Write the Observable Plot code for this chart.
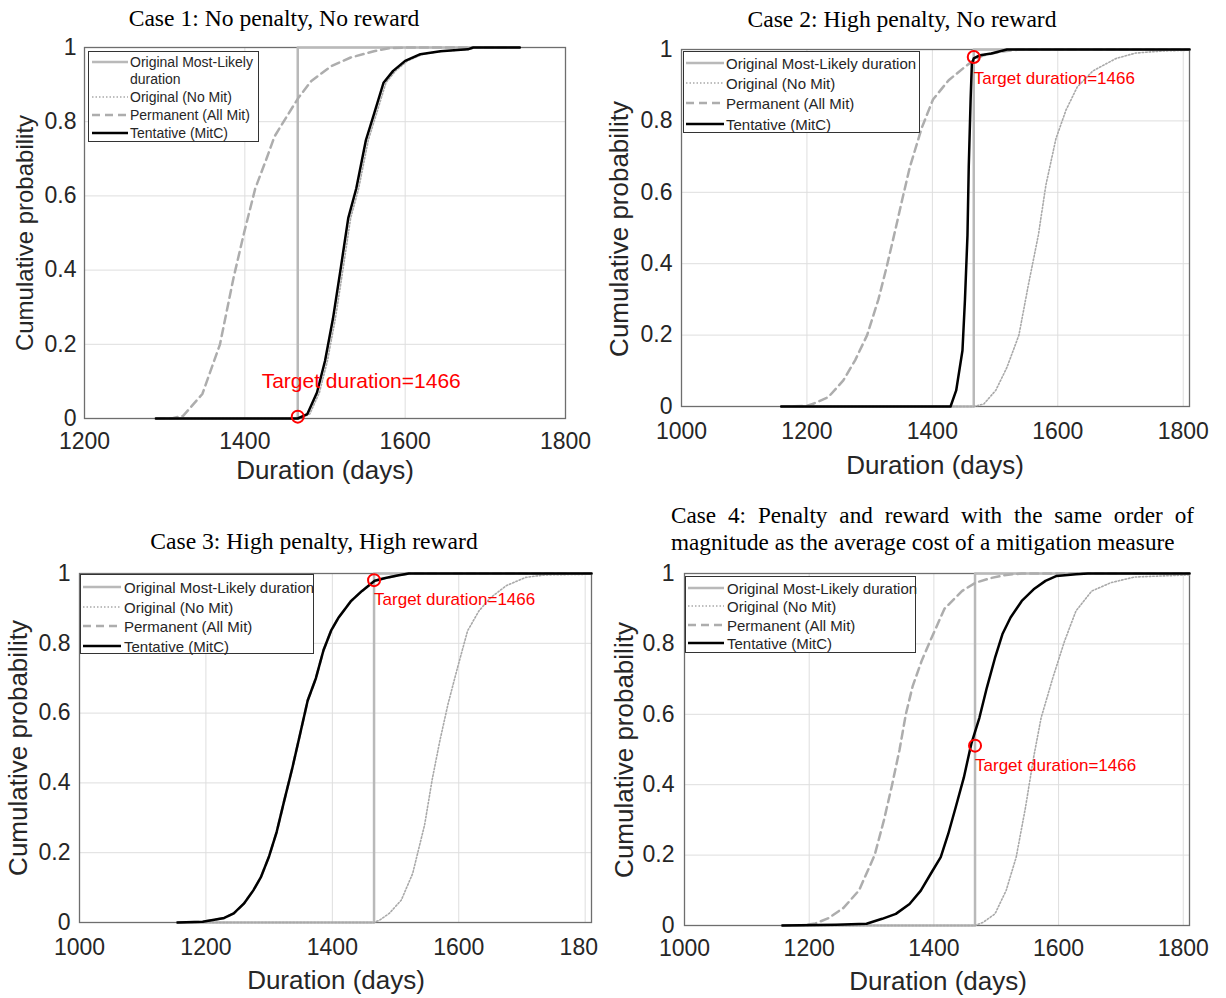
<!DOCTYPE html>
<html><head><meta charset="utf-8">
<script src="https://cdn.jsdelivr.net/npm/d3@7"></script>
<script src="https://cdn.jsdelivr.net/npm/@observablehq/plot@0.6"></script>
<style>
body{margin:0;background:#fff;}
#root{position:relative;width:1226px;height:998px;overflow:hidden;background:#fff;font-family:"Liberation Sans",Arial,sans-serif;}
.panel{position:absolute;overflow:hidden;}
.title{position:absolute;font-family:"Liberation Serif","Times New Roman",serif;font-size:23.6px;color:#000;white-space:nowrap;line-height:1;transform:translate(-50%,-50%);}
.title4{position:absolute;font-family:"Liberation Serif","Times New Roman",serif;font-size:23.2px;color:#000;white-space:nowrap;line-height:1;transform:translateY(-50%);}
.xt{position:absolute;font-size:26px;color:#262626;transform:translate(-50%,-50%);white-space:nowrap;line-height:1;}
.yt{position:absolute;font-size:26px;color:#262626;transform:translate(-50%,-50%) rotate(-90deg);white-space:nowrap;line-height:1;}
.legend{position:absolute;border:1px solid #333;background:#fff;box-sizing:border-box;}
.lrow{position:absolute;font-size:15px;color:#262626;white-space:nowrap;line-height:1;transform:translateY(-50%);}
.lsvg{position:absolute;}
</style></head>
<body><div id="root"></div>
<script>
// ---------- data ----------
const targetDuration = 1466;
const xTicksCase1 = [1200, 1400, 1600, 1800];
const xTicksWide = [1000, 1200, 1400, 1600, 1800];
const yTicks = [0, 0.2, 0.4, 0.6, 0.8, 1];
const seriesNames = ["Original Most-Likely duration", "Original (No Mit)", "Permanent (All Mit)", "Tentative (MitC)"];
const caseTitles = [
  "Case 1: No penalty, No reward",
  "Case 2: High penalty, No reward",
  "Case 3: High penalty, High reward",
  "Case 4: Penalty and reward with the same order of",
  "magnitude as the average cost of a mitigation measure"
];
const xLabel = "Duration (days)";
const yLabel = "Cumulative probability";

// Case 1
const c1MostLikely = [[1289,0],[1466,0],[1466,1],[1743,1]];
const c1NoMit = [[1289,0],[1468,0],[1481,0.012],[1493,0.07],[1503,0.155],[1513,0.27],[1523,0.41],[1532,0.54],[1542,0.62],[1554,0.75],[1564,0.82],[1576,0.905],[1588,0.937],[1603,0.964],[1622,0.982],[1646,0.99],[1680,0.995],[1688,1],[1743,1]];
const c1Permanent = [[1290,0],[1310,0.001],[1323,0.007],[1347,0.066],[1369,0.2],[1386,0.38],[1399,0.5],[1413,0.62],[1427,0.7],[1437,0.76],[1454,0.82],[1467,0.865],[1483,0.91],[1508,0.95],[1532,0.973],[1561,0.99],[1580,0.998],[1600,1],[1743,1]];
const c1Tentative = [[1289,0],[1466,0],[1478,0.012],[1490,0.07],[1500,0.155],[1510,0.27],[1520,0.41],[1529,0.54],[1539,0.62],[1551,0.75],[1561,0.82],[1573,0.905],[1585,0.937],[1600,0.964],[1619,0.982],[1644,0.99],[1678,0.995],[1685,1],[1743,1]];
const c1Target = [[1466, 0.005]];
const c1LabelAt = [[1421, 0.1]];

// Case 2
const c2MostLikely = [[1159,0],[1466,0],[1466,1],[1810,1]];
const c2NoMit = [[1159,0],[1466,0],[1482,0.007],[1501,0.045],[1519,0.11],[1538,0.2],[1553,0.34],[1569,0.48],[1581,0.62],[1597,0.75],[1613,0.83],[1631,0.895],[1656,0.94],[1693,0.975],[1724,0.99],[1768,0.996],[1810,0.998]];
const c2Permanent = [[1159,0],[1200,0.002],[1209,0.007],[1234,0.026],[1258,0.073],[1277,0.13],[1296,0.2],[1314,0.3],[1327,0.39],[1339,0.48],[1352,0.58],[1364,0.67],[1383,0.78],[1401,0.86],[1426,0.914],[1451,0.95],[1466,0.97],[1482,0.984],[1507,0.993],[1538,1],[1810,1]];
const c2Tentative = [[1159,0],[1429,0],[1438,0.045],[1448,0.157],[1452,0.3],[1456,0.48],[1458,0.67],[1461,0.86],[1463,0.96],[1466,0.975],[1476,0.984],[1494,0.989],[1519,1],[1810,1]];
const c2Target = [[1466, 0.979]];
const c2LabelAt = [[1466, 0.92]];

// Case 3
const c3MostLikely = [[1155,0],[1466,0],[1466,1],[1810,1]];
const c3NoMit = [[1155,0],[1466,0],[1475,0.007],[1490,0.026],[1509,0.064],[1527,0.14],[1546,0.28],[1558,0.41],[1570,0.52],[1583,0.626],[1598,0.73],[1614,0.836],[1632,0.893],[1650,0.93],[1675,0.965],[1706,0.989],[1737,0.996],[1810,0.998]];
const c3Permanent = [[1155,0],[1195,0.002],[1229,0.013],[1244,0.026],[1260,0.054],[1275,0.092],[1287,0.13],[1300,0.19],[1312,0.26],[1324,0.35],[1337,0.445],[1349,0.54],[1361,0.636],[1374,0.7],[1386,0.78],[1398,0.836],[1410,0.874],[1429,0.92],[1447,0.95],[1467,0.979],[1484,0.987],[1503,0.994],[1521,1],[1810,1]];
const c3Tentative = [[1155,0],[1195,0.002],[1229,0.013],[1244,0.026],[1260,0.054],[1275,0.092],[1287,0.13],[1300,0.19],[1312,0.26],[1324,0.35],[1337,0.445],[1349,0.54],[1361,0.636],[1374,0.7],[1386,0.78],[1398,0.836],[1410,0.874],[1429,0.92],[1447,0.95],[1467,0.979],[1484,0.987],[1503,0.994],[1521,1],[1810,1]];
const c3Target = [[1466, 0.981]];
const c3LabelAt = [[1466, 0.924]];

// Case 4
const c4MostLikely = [[1157,0],[1466,0],[1466,1],[1810,1]];
const c4NoMit = [[1157,0],[1466,0],[1479,0.009],[1498,0.033],[1516,0.1],[1532,0.194],[1547,0.336],[1560,0.478],[1572,0.59],[1591,0.705],[1610,0.81],[1628,0.894],[1653,0.95],[1684,0.974],[1722,0.99],[1810,0.996]];
const c4Permanent = [[1157,0],[1193,0.001],[1210,0.006],[1230,0.02],[1255,0.05],[1280,0.1],[1305,0.2],[1320,0.3],[1333,0.4],[1345,0.5],[1355,0.6],[1366,0.68],[1380,0.75],[1392,0.8],[1417,0.9],[1445,0.95],[1467,0.974],[1491,0.987],[1516,0.996],[1541,1],[1810,1]];
const c4Tentative = [[1157,0],[1243,0.002],[1292,0.005],[1317,0.019],[1339,0.033],[1361,0.061],[1379,0.099],[1395,0.147],[1411,0.194],[1423,0.26],[1435,0.336],[1448,0.42],[1460,0.516],[1473,0.59],[1485,0.676],[1498,0.76],[1510,0.828],[1523,0.875],[1541,0.922],[1560,0.955],[1579,0.979],[1597,0.993],[1628,0.998],[1647,1],[1810,1]];
const c4Target = [[1466, 0.511]];
const c4LabelAt = [[1466, 0.454]];

// ---------- styles / layout ----------
const styleML = {stroke:"#b9b9b9", strokeWidth:2.5};
const styleNo = {stroke:"#a9a9a9", strokeWidth:1.6, strokeDasharray:"1.5,2"};
const stylePerm = {stroke:"#adadad", strokeWidth:2.5, strokeDasharray:"8,5"};
const styleTent = {stroke:"#000", strokeWidth:2.5};

const panels = [
  {box:[0,0,605,490], frame:[84,565,47,418], xDomain:[1200,1800], xTicks:xTicksCase1, xPad:14, yPad:8,
   series:[c1MostLikely,c1NoMit,c1Permanent,c1Tentative], target:c1Target, labelAt:c1LabelAt, labelSize:21,
   xTitle:[325,470], yTitle:[25,233], yTitleSize:24},
  {box:[610,0,616,490], frame:[681,1189,49,406], xDomain:[1000,1810], xTicks:xTicksWide, xPad:16, yPad:9,
   series:[c2MostLikely,c2NoMit,c2Permanent,c2Tentative], target:c2Target, labelAt:c2LabelAt, labelSize:17,
   xTitle:[935,465], yTitle:[619,229], yTitleSize:26},
  {box:[0,490,598,508], frame:[79,591,573,922], xDomain:[1000,1810], xTicks:xTicksWide, xPad:16, yPad:9,
   series:[c3MostLikely,c3NoMit,c3Permanent,c3Tentative], target:c3Target, labelAt:c3LabelAt, labelSize:17,
   xTitle:[336,980], yTitle:[18,748], yTitleSize:26},
  {box:[610,490,616,508], frame:[684,1189,573,925], xDomain:[1000,1810], xTicks:xTicksWide, xPad:14, yPad:10,
   series:[c4MostLikely,c4NoMit,c4Permanent,c4Tentative], target:c4Target, labelAt:c4LabelAt, labelSize:17,
   xTitle:[938,981], yTitle:[624,750], yTitleSize:26}
];

const root = document.getElementById("root");
const fmt = d3.format("~g");
const fmtX = d3.format("d");

panels.forEach((p) => {
  const [bl, bt, bw, bh] = p.box;
  const [fl, fr, ft, fb] = p.frame;
  const [ml, no, perm, tent] = p.series;
  const chart = Plot.plot({
    width: bw, height: bh,
    marginLeft: fl - bl, marginRight: bl + bw - fr, marginTop: ft - bt, marginBottom: bt + bh - fb,
    style: {fontSize: "23px", fontFamily: "'Liberation Sans', Arial, sans-serif", color: "#262626", background: "#fff", overflow: "hidden"},
    x: {domain: p.xDomain},
    y: {domain: [0, 1]},
    marks: [
      Plot.gridX(p.xTicks, {stroke: "#dedede", strokeOpacity: 1, strokeWidth: 1}),
      Plot.gridY(yTicks, {stroke: "#dedede", strokeOpacity: 1, strokeWidth: 1}),
      Plot.frame({stroke: "#6e6e6e", strokeWidth: 1.3}),
      Plot.axisX(p.xTicks, {tickSize: 0, tickPadding: p.xPad, fontSize: 23, label: null, tickFormat: fmtX, fill: "#262626"}),
      Plot.axisY(yTicks, {tickSize: 0, tickPadding: p.yPad, fontSize: 23, label: null, tickFormat: fmt, fill: "#262626"}),
      Plot.line(ml, {x: d => d[0], y: d => d[1], ...styleML}),
      Plot.line(no, {x: d => d[0], y: d => d[1], ...styleNo}),
      Plot.line(perm, {x: d => d[0], y: d => d[1], ...stylePerm}),
      Plot.line(tent, {x: d => d[0], y: d => d[1], ...styleTent}),
      Plot.dot(p.target, {x: d => d[0], y: d => d[1], r: 6, stroke: "#ff0000", strokeWidth: 2, fill: "none"}),
      Plot.text(p.labelAt, {x: d => d[0], y: d => d[1], text: () => `Target duration=${targetDuration}`, textAnchor: "start", fill: "#ff0000", fontSize: p.labelSize})
    ]
  });
  const wrap = document.createElement("div");
  wrap.className = "panel";
  wrap.style.left = bl + "px"; wrap.style.top = bt + "px";
  wrap.style.width = bw + "px"; wrap.style.height = bh + "px";
  wrap.appendChild(chart);
  root.appendChild(wrap);

  const xt = document.createElement("div");
  xt.className = "xt"; xt.textContent = xLabel;
  xt.style.left = p.xTitle[0] + "px"; xt.style.top = p.xTitle[1] + "px";
  root.appendChild(xt);
  const yt = document.createElement("div");
  yt.className = "yt"; yt.textContent = yLabel;
  yt.style.left = p.yTitle[0] + "px"; yt.style.top = p.yTitle[1] + "px";
  yt.style.fontSize = p.yTitleSize + "px";
  root.appendChild(yt);
});

// titles
function addTitle(text, x, y, cls, width) {
  const t = document.createElement("div");
  t.className = cls; t.textContent = text;
  t.style.left = x + "px"; t.style.top = y + "px";
  if (width) { t.style.width = width + "px"; t.style.textAlign = "justify"; t.style.textAlignLast = "justify"; }
  root.appendChild(t);
}
addTitle(caseTitles[0], 274, 19, "title");
addTitle(caseTitles[1], 902, 20, "title");
addTitle(caseTitles[2], 314, 542, "title");
addTitle(caseTitles[3], 671, 516, "title4", 523);
addTitle(caseTitles[4], 671, 543, "title4");

// legends
const legendStyles = [styleML, styleNo, stylePerm, styleTent];
function addLegend(box, lineX0, lineX1, textX, rows) {
  const [l, t, w, h] = box;
  const lg = document.createElement("div");
  lg.className = "legend";
  lg.style.left = l + "px"; lg.style.top = t + "px"; lg.style.width = w + "px"; lg.style.height = h + "px";
  root.appendChild(lg);
  rows.forEach(r => {
    if (r.series !== null) {
      const s = legendStyles[r.series];
      const ns = "http://www.w3.org/2000/svg";
      const svg = document.createElementNS(ns, "svg");
      svg.setAttribute("class", "lsvg");
      svg.setAttribute("width", lineX1 - lineX0); svg.setAttribute("height", 8);
      svg.style.left = lineX0 + "px"; svg.style.top = (r.y - 4) + "px";
      const ln = document.createElementNS(ns, "line");
      ln.setAttribute("x1", 0); ln.setAttribute("x2", lineX1 - lineX0);
      ln.setAttribute("y1", 4); ln.setAttribute("y2", 4);
      ln.setAttribute("stroke", s.stroke); ln.setAttribute("stroke-width", s.strokeWidth);
      if (s.strokeDasharray) ln.setAttribute("stroke-dasharray", s.strokeDasharray);
      svg.appendChild(ln);
      root.appendChild(svg);
    }
    const d = document.createElement("div");
    d.className = "lrow"; d.textContent = r.text;
    d.style.left = textX + "px"; d.style.top = r.y + "px";
    if (r.size) d.style.fontSize = r.size + "px";
    root.appendChild(d);
  });
}
addLegend([88,51,171,91], 92, 128, 130, [
  {series:0, text:"Original Most-Likely", y:62, size:14},
  {series:null, text:"duration", y:79, size:14},
  {series:1, text:seriesNames[1], y:97, size:14},
  {series:2, text:seriesNames[2], y:115, size:14},
  {series:3, text:seriesNames[3], y:133, size:14}
]);
addLegend([683,51,237,82], 686, 724, 726, [
  {series:0, text:seriesNames[0], y:63}, {series:1, text:seriesNames[1], y:83},
  {series:2, text:seriesNames[2], y:103}, {series:3, text:seriesNames[3], y:124}
]);
addLegend([80,574,234,80], 83, 121, 124, [
  {series:0, text:seriesNames[0], y:587}, {series:1, text:seriesNames[1], y:607},
  {series:2, text:seriesNames[2], y:626}, {series:3, text:seriesNames[3], y:646}
]);
addLegend([685,576,231,77], 688, 724, 727, [
  {series:0, text:seriesNames[0], y:588}, {series:1, text:seriesNames[1], y:606},
  {series:2, text:seriesNames[2], y:625}, {series:3, text:seriesNames[3], y:643}
]);
</script>
</body></html>
